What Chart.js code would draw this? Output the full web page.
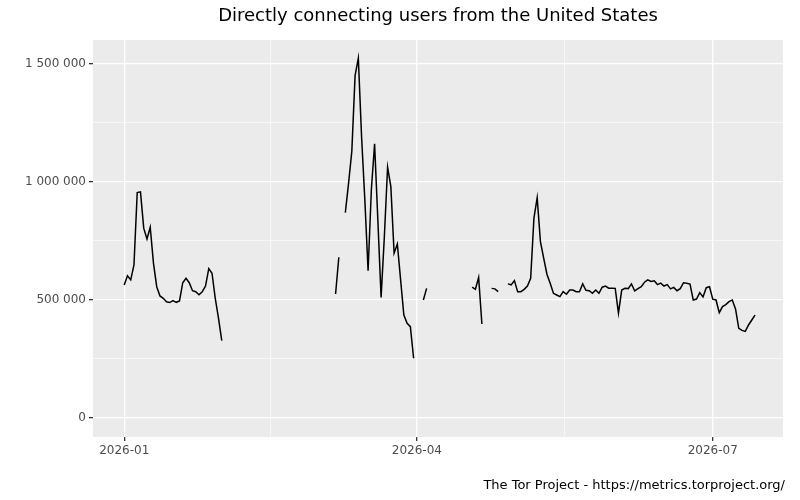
<!DOCTYPE html>
<html><head><meta charset="utf-8">
<script src="https://cdn.jsdelivr.net/npm/chart.js@4"></script>
<style>body{margin:0;background:#fff}#w{width:800px;height:500px}</style>
</head><body><div id="w"><canvas id="c"></canvas></div>
<script>
const titleText = "Directly connecting users from the United States";
const captionText = "The Tor Project - https://metrics.torproject.org/";
const startDate = "2026-01-01";
const segStarts = [0, 65, 68, 92, 107, 113, 118];
const seg0 = [563000,602000,585000,648000,955000,958000,804000,758000,808000,655000,556000,517000,507000,492000,489000,497000,490000,496000,573000,592000,573000,539000,535000,522000,535000,559000,633000,613000,507000,422000,328000];
const seg1 = [525000,681000];
const seg2 = [870000,995000,1130000,1450000,1524000,1190000,924000,624000,966000,1161000,839000,511000,768000,1062000,980000,698000,737000,585000,436000,401000,387000,253000];
const seg3 = [500000,549000];
const seg4 = [554000,545000,595000,398000];
const seg5 = [549000,547000,535000];
const seg6 = [568000,564000,582000,535000,535000,545000,559000,592000,846000,933000,747000,677000,609000,571000,528000,521000,514000,535000,524000,542000,542000,535000,535000,568000,541000,539000,528000,542000,528000,554000,559000,550000,550000,549000,444000,542000,549000,548000,568000,538000,548000,556000,575000,585000,578000,581000,565000,571000,559000,565000,547000,553000,539000,548000,573000,571000,567000,500000,504000,531000,513000,552000,556000,503000,500000,446000,472000,480000,493000,500000,462000,380000,371000,367000,394000,415000,436000];
const segValues = [seg0, seg1, seg2, seg3, seg4, seg5, seg6];
const xTickDays = [0, 90, 181];
const xTickLabels = ["2026-01", "2026-04", "2026-07"];
const xMinorDays = [45, 135.5];
const yTicks = [0, 500000, 1000000, 1500000];
const yMinor = [250000, 750000, 1250000];

const pts = [];
segValues.forEach((vals, i) => {
  if (i > 0) pts.push({x: segStarts[i] - 0.5, y: null});
  vals.forEach((v, j) => pts.push({x: segStarts[i] + j, y: v}));
});
const fmt = v => String(v).replace(/\B(?=(\d{3})+(?!\d))/g, " ");

const deco = {
  id: 'deco',
  beforeDraw(ch) {
    const {ctx, chartArea: a} = ch;
    ctx.save();
    ctx.fillStyle = '#fff'; ctx.fillRect(0, 0, ch.width, ch.height);
    ctx.fillStyle = '#EBEBEB'; ctx.fillRect(a.left, a.top, a.right - a.left, a.bottom - a.top);
    ctx.restore();
  },
  afterDraw(ch) {
    const {ctx, chartArea: a} = ch;
    ctx.save();
    ctx.fillStyle = '#000';
    ctx.font = '18px "DejaVu Sans"';
    ctx.textAlign = 'center'; ctx.textBaseline = 'middle';
    ctx.fillText(titleText, (a.left + a.right) / 2, 16);
    ctx.font = '13px "DejaVu Sans"';
    ctx.textAlign = 'right';
    ctx.fillText(captionText, 785, 486);
    ctx.restore();
  }
};

const isMajorX = v => xTickDays.includes(v);
const isMajorY = v => yTicks.includes(v);

new Chart(document.getElementById('c'), {
  type: 'line',
  data: { datasets: [{ data: pts, borderColor: '#000', borderWidth: 1.5, pointRadius: 0, spanGaps: false, tension: 0 }] },
  options: {
    responsive: true, maintainAspectRatio: false, animation: false,
    layout: { padding: { top: 40, right: 17, left: 0, bottom: 0 } },
    plugins: { legend: { display: false }, tooltip: { enabled: false } },
    scales: {
      x: {
        type: 'linear', min: -9.6, max: 202.6,
        afterBuildTicks: s => { s.ticks = [...xMinorDays, ...xTickDays].sort((a,b)=>a-b).map(v => ({value: v})); },
        afterFit: s => { s.height = 63; s.paddingLeft = 0; s.paddingRight = 0; },
        ticks: { autoSkip: false, maxRotation: 0, color: '#4D4D4D', font: { family: 'DejaVu Sans', size: 12 },
          callback: v => { const i = xTickDays.indexOf(v); return i >= 0 ? xTickLabels[i] : ''; } },
        grid: { color: '#fff', lineWidth: c => (c.tick && isMajorX(c.tick.value)) ? 1.3 : 0.6,
          drawTicks: true, tickLength: 4, tickColor: c => (c.tick && isMajorX(c.tick.value)) ? '#333' : 'rgba(0,0,0,0)' },
        border: { display: false }
      },
      y: {
        min: -80500, max: 1601000,
        afterBuildTicks: s => { s.ticks = [...yTicks, ...yMinor].sort((a,b)=>a-b).map(v => ({value: v})); },
        afterFit: s => { s.width = 93; },
        ticks: { autoSkip: false, color: '#4D4D4D', font: { family: 'DejaVu Sans', size: 12 },
          callback: v => isMajorY(v) ? fmt(v) : '' },
        grid: { color: '#fff', lineWidth: c => (c.tick && isMajorY(c.tick.value)) ? 1.3 : 0.6,
          drawTicks: true, tickLength: 4, tickColor: c => (c.tick && isMajorY(c.tick.value)) ? '#333' : 'rgba(0,0,0,0)' },
        border: { display: false }
      }
    }
  },
  plugins: [deco]
});
</script></body></html>
